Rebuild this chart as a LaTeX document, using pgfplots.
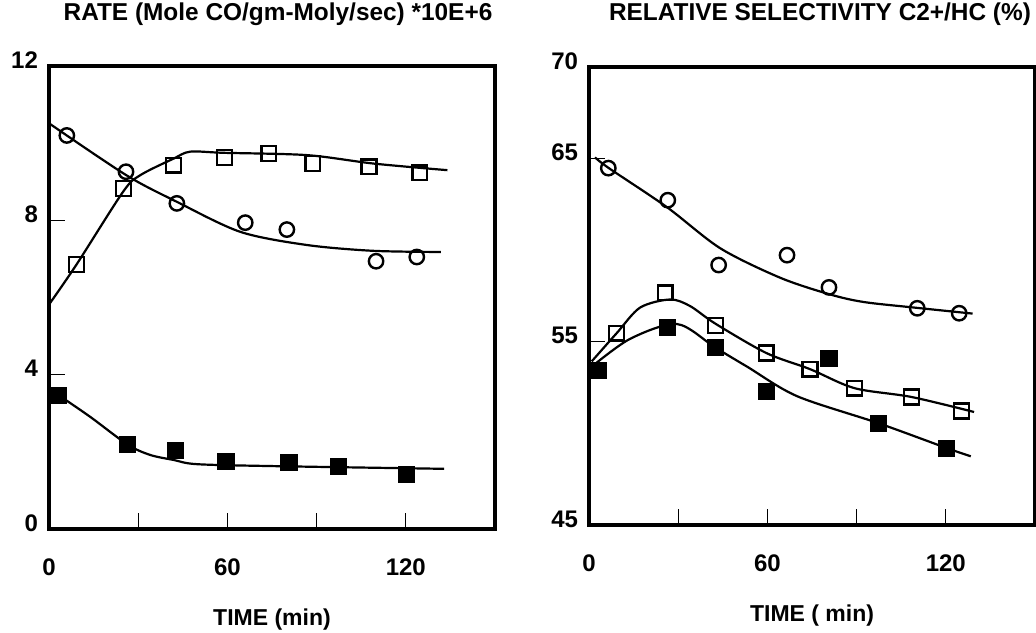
\documentclass[border=0pt]{standalone}
\usepackage{fontspec}
\setmainfont{Liberation Sans}
\usepackage{pgfplots}
\pgfplotsset{compat=1.18}

\pgfplotsset{
  panel/.style={
    scale only axis, width=223pt,
    xmin=0, xmax=150,
    xtick={0,30,60,90,120}, xticklabels={0,,60,,120},
    tick align=inside, xtick pos=bottom, ytick pos=left,
    major tick length=8pt,
    axis line style={line width=1.7pt},
    tick style={line width=0.5pt, black},
    /pgf/number format/assume math mode=true,
    ticklabel style={font=\fontsize{12}{14}\selectfont\bfseries},
    xticklabel style={anchor=center, yshift=-19pt},
    yticklabel style={anchor=east, xshift=-2pt, yshift=3pt},
    xlabel style={font=\fontsize{11.5}{13}\selectfont\bfseries,
      at={(axis description cs:0.5,0)}, anchor=center, yshift=-45.5pt},
    title style={font=\fontsize{12.2}{14}\selectfont\bfseries,
      at={(axis description cs:0.5,1)}, anchor=base},
  },
  fit/.style={black, line width=1.1pt, smooth, tension=0.5, mark=none},
  pts/.style={only marks, black, mark options={line width=1.2pt, black}},
}

\begin{document}
\begin{tikzpicture}
\useasboundingbox (0,0) rectangle (518pt,316pt);

% left: rate
\begin{axis}[panel, at={(24.5pt,51.5pt)}, anchor=south west, height=231.5pt,
  ymin=0, ymax=12, ytick={0,4,8,12},
  title={RATE (Mole CO/gm-Moly/sec) *10E+6},
  title style={yshift=16.5pt, xshift=3pt},
  xlabel={TIME (min)}]
% circles
\addplot[fit] coordinates {(0.3,10.5)(26,9.17)(43,8.48)(64.4,7.70)(86.8,7.36)(109,7.21)(131.8,7.18)};
\addplot[pts, mark=o, mark size=3.6pt] coordinates {(6,10.2)(25.9,9.26)(43,8.44)(66,7.94)(80,7.76)(110,6.94)(123.7,7.05)};
% open squares
\addplot[fit] coordinates {(0.3,5.85)(9.3,6.86)(25,8.75)(30.7,9.17)(41.9,9.6)(47.5,9.78)(58.8,9.75)(86.8,9.69)(109.3,9.47)(134,9.30)};
\addplot[pts, mark=square, mark size=3.7pt] coordinates {(9.3,6.86)(25,8.83)(41.9,9.43)(59,9.63)(73.9,9.73)(88.7,9.47)(107.6,9.39)(124.7,9.23)};
% filled squares
\addplot[fit] coordinates {(0.3,3.56)(3.1,3.47)(13.8,2.91)(26.4,2.19)(34,1.92)(41.9,1.79)(49.8,1.68)(75.6,1.63)(132.9,1.56)};
\addplot[pts, mark=square*, mark size=3.7pt] coordinates {(3.1,3.47)(26.4,2.19)(42.5,2.03)(59.5,1.74)(80.7,1.72)(97.3,1.61)(120.3,1.42)};
\end{axis}

% right: selectivity
\begin{axis}[panel, at={(294.5pt,53.5pt)}, anchor=south west, height=229pt,
  ymin=45, ymax=70, ytick={45,55,65,70},
  title={RELATIVE SELECTIVITY C2+/HC (\%)},
  title style={yshift=17.5pt, xshift=4pt},
  xlabel={TIME ( min)}]
% circles
\addplot[fit] coordinates {(2,65.07)(6.5,64.5)(26.2,62.35)(44.2,60.1)(64.4,58.49)(81.2,57.58)(92.5,57.17)(109.3,56.87)(129,56.54)};
\addplot[pts, mark=o, mark size=3.6pt] coordinates {(6.5,64.48)(26.5,62.73)(43.6,59.19)(66.6,59.73)(80.7,57.97)(110.4,56.83)(124.5,56.56)};
% open squares
\addplot[fit] coordinates {(0.9,53.93)(9.3,55.47)(17.2,56.87)(27.3,57.31)(34,56.95)(42.5,55.99)(59.6,54.39)(74.3,53.51)(89.3,52.47)(108.4,51.99)(129.5,51.17)};
\addplot[pts, mark=square, mark size=3.7pt] coordinates {(9.3,55.47)(25.6,57.67)(42.5,55.88)(59.6,54.39)(74.3,53.51)(89.3,52.47)(108.4,51.99)(125.3,51.22)};
% filled squares
\addplot[fit] coordinates {(0.9,53.64)(13.8,55.16)(29.6,55.97)(42.5,54.68)(53.2,53.64)(70,52.03)(97.3,50.56)(120.3,49.2)(128.4,48.75)};
\addplot[pts, mark=square*, mark size=3.7pt] coordinates {(3.1,53.42)(26.4,55.79)(42.5,54.68)(59.6,52.30)(80.7,54.09)(97.3,50.56)(120.3,49.16)};
\end{axis}
\end{tikzpicture}
\end{document}
